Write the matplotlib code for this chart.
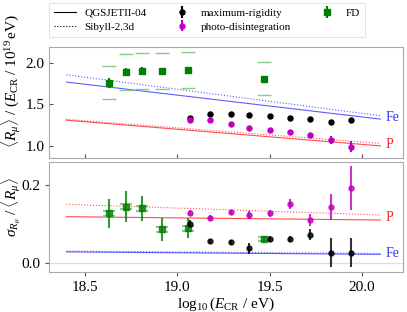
import matplotlib
matplotlib.use('Agg')
import matplotlib.pyplot as plt
from matplotlib.lines import Line2D

plt.rcParams['font.family'] = ['Liberation Serif', 'DejaVu Serif']
plt.rcParams['mathtext.fontset'] = 'custom'
plt.rcParams['mathtext.rm'] = 'Liberation Serif'
plt.rcParams['mathtext.it'] = 'Liberation Serif:italic'
plt.rcParams['mathtext.bf'] = 'Liberation Serif:bold'

# model lines (endpoints)
model_lgE = [18.4, 20.1]
fe_qgs_mean = [1.77, 1.323]
fe_sib_mean = [1.858, 1.363]
p_qgs_mean = [1.31, 1.0]
p_sib_mean = [1.32, 1.03]
fe_qgs_sig = [0.028, 0.0216]
fe_sib_sig = [0.030, 0.024]
p_qgs_sig = [0.1186, 0.110]
p_sib_sig = [0.1505, 0.123]

# scenario fits
fit_lgE = [19.07, 19.18, 19.29, 19.39, 19.50, 19.61, 19.72, 19.83, 19.94]
rig_mean = [1.335, 1.387, 1.387, 1.378, 1.36, 1.339, 1.323, 1.287, 1.318]
rig_mean_err = [0.01, 0.01, 0.01, 0.01, 0.01, 0.01, 0.012, 0.012, 0.012]
pd_mean = [1.314, 1.318, 1.262, 1.221, 1.193, 1.169, 1.137, 1.073, 0.992]
pd_mean_err = [0.012, 0.01, 0.01, 0.01, 0.01, 0.012, 0.015, 0.045, 0.065]
rig_sig = [0.100, 0.056, 0.053, 0.037, 0.061, 0.061, 0.072, 0.026, 0.026]
rig_sig_err = [0.01, 0.006, 0.006, 0.015, 0.007, 0.007, 0.014, 0.037, 0.037]
pd_sig = [0.129, 0.116, 0.131, 0.123, 0.127, 0.151, 0.110, 0.144, 0.192]
pd_sig_err = [0.006, 0.006, 0.006, 0.01, 0.01, 0.013, 0.016, 0.034, 0.056]

# FD data
fd_lgE = [18.63, 18.72, 18.81, 18.92, 19.06, 19.47]
fd_mean = [1.758, 1.89, 1.907, 1.903, 1.915, 1.81]
fd_mean_stat = [0.06, 0.045, 0.04, 0.04, 0.04, 0.03]
fd_mean_sys_up = [0.209, 0.214, 0.213, 0.217, 0.218, 0.202]
fd_mean_sys_lo = [0.193, 0.213, 0.221, 0.217, 0.217, 0.202]
fd_sig = [0.127, 0.144, 0.140, 0.086, 0.089, 0.061]
fd_sig_stat = [0.037, 0.04, 0.032, 0.03, 0.026, 0.008]
fd_sig_sys = [0.006, 0.006, 0.006, 0.006, 0.006, 0.006]

blue = '#3333ff'
red = '#ff2222'
green = 'green'
lightgreen = '#88cc88'
grey = '#aaaaaa'

fig = plt.figure(figsize=(4.07, 3.12), dpi=100)
ax1 = fig.add_axes([0.121, 0.4926, 0.868, 0.356])
ax2 = fig.add_axes([0.121, 0.128, 0.868, 0.3535])

for ax, fe_q, fe_s, p_q, p_s in [(ax1, fe_qgs_mean, fe_sib_mean, p_qgs_mean, p_sib_mean),
                                 (ax2, fe_qgs_sig, fe_sib_sig, p_qgs_sig, p_sib_sig)]:
    ax.plot(model_lgE, fe_q, color=blue, lw=0.8, alpha=0.8)
    ax.plot(model_lgE, fe_s, color=blue, lw=0.8, ls=':', alpha=0.8)
    ax.plot(model_lgE, p_q, color=red, lw=0.8, alpha=0.8)
    ax.plot(model_lgE, p_s, color=red, lw=0.8, ls=':', alpha=0.8)
    ax.text(model_lgE[1] + 0.03, (fe_q[1] + fe_s[1]) / 2, 'Fe', color=blue, fontsize=10, va='center')
    ax.text(model_lgE[1] + 0.03, (p_q[1] + p_s[1]) / 2, 'P', color=red, fontsize=10, va='center')

# top panel
ax1.errorbar(fd_lgE, fd_mean, yerr=[fd_mean_sys_lo, fd_mean_sys_up], fmt='none',
             ecolor=lightgreen, elinewidth=0, capsize=5, capthick=1)
ax1.errorbar(fd_lgE, fd_mean, yerr=fd_mean_stat, fmt='s', color=green, ms=4, elinewidth=1.5)
ax1.errorbar(fit_lgE, rig_mean, yerr=rig_mean_err, fmt='o', color='black', ms=3.6, elinewidth=1.5)
ax1.errorbar(fit_lgE, pd_mean, yerr=pd_mean_err, fmt='o', color='m', ms=3.6, elinewidth=1.5)

# bottom panel
ax2.axhline(0, color='#dddddd', lw=0.8, zorder=0)
ax2.errorbar(fd_lgE, fd_sig, yerr=fd_sig_sys, fmt='none',
             ecolor=lightgreen, elinewidth=0, capsize=4, capthick=1.5)
ax2.errorbar(fd_lgE, fd_sig, yerr=fd_sig_stat, fmt='s', color=green, ms=4, elinewidth=1.5, alpha=0.8)
ax2.errorbar(fit_lgE, rig_sig, yerr=rig_sig_err, fmt='o', color='black', ms=3.6, elinewidth=1.5, alpha=0.8)
ax2.errorbar(fit_lgE, pd_sig, yerr=pd_sig_err, fmt='o', color='m', ms=3.6, elinewidth=1.5, alpha=0.8)

ax1.set_xlim(18.307, 20.22)
ax2.set_xlim(18.307, 20.22)
ax1.set_ylim(0.85, 2.19)
ax2.set_ylim(-0.024, 0.26)
ax1.set_yticks([1.0, 1.5, 2.0])
ax2.set_yticks([0.0, 0.2])
ax1.set_xticks([18.5, 19.0, 19.5, 20.0])
ax2.set_xticks([18.5, 19.0, 19.5, 20.0])
ax1.tick_params(labelbottom=False, direction='in')

for ax in (ax1, ax2):
    for s in ax.spines.values():
        s.set_color(grey)
    ax.tick_params(colors='#555555', labelcolor='black', labelsize=11, length=3)

ax1.set_ylabel(r'$\langle R_\mu \rangle\ /\ (E_{\rm CR}\ /\ 10^{19}\,\rm eV)$', fontsize=11)
ax2.set_ylabel(r'$\sigma_{R_\mu}\ /\ \langle R_\mu \rangle$', fontsize=11)
ax1.yaxis.set_label_coords(-0.075, 0.7)
ax2.yaxis.set_label_coords(-0.075, 0.59)
ax2.set_xlabel(r'$\log_{10}(E_{\rm CR}$ / eV)', fontsize=11, labelpad=1)

handles = [
    Line2D([], [], color='black', lw=0.8),
    Line2D([], [], color='black', lw=0.8, ls=':'),
    ax1.errorbar([], [], yerr=[], fmt='o', color='black', ms=3.6, elinewidth=1.5),
    ax1.errorbar([], [], yerr=[], fmt='o', color='m', ms=3.6, elinewidth=1.5),
    ax1.errorbar([], [], yerr=[], fmt='s', color=green, ms=4, elinewidth=1.5),
]
labels = ['QGSJETII-04', 'Sibyll-2.3d', 'maximum-rigidity', 'photo-disintegration', 'FD']
leg = fig.legend(handles, labels, loc='upper left', bbox_to_anchor=(0.121, 0.99), ncol=3,
                 fontsize=8, frameon=True, fancybox=False, edgecolor='#dddddd',
                 columnspacing=2.2, handlelength=2.0, handletextpad=0.7, borderpad=0.45,
                 labelspacing=0.35, borderaxespad=0)
leg.get_frame().set_linewidth(0.8)

fig.savefig('out.png', dpi=100)
